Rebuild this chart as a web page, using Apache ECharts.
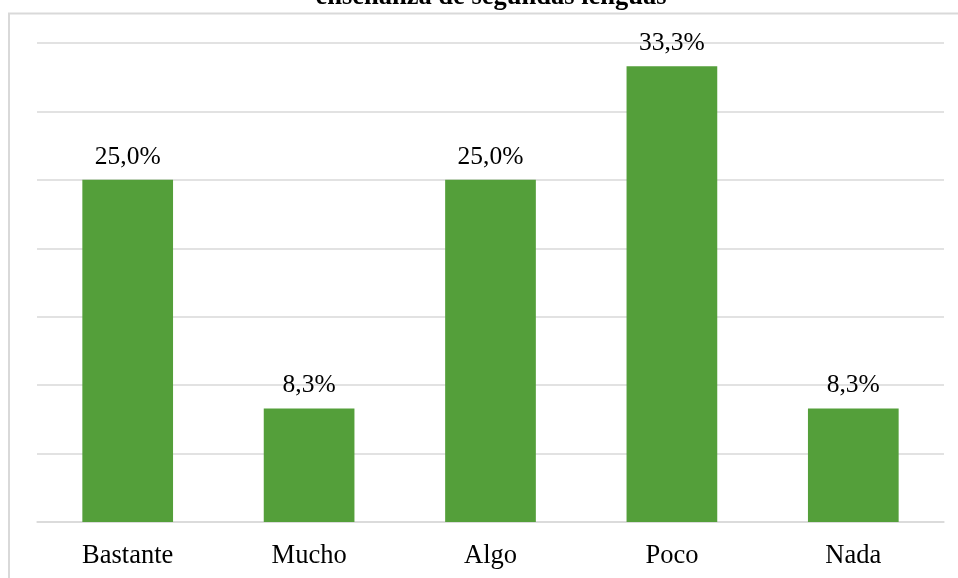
<!DOCTYPE html>
<html>
<head>
<meta charset="utf-8">
<script src="https://cdn.jsdelivr.net/npm/echarts@6/dist/echarts.min.js"></script>
<style>
  html, body { margin: 0; padding: 0; background: #ffffff; }
  #chart { width: 958px; height: 578px; }
</style>
</head>
<body>
<div id="chart"></div>
<script>
// Chart data
var titleText = 'enseñanza de segundas lenguas';
var categories = ['Bastante', 'Mucho', 'Algo', 'Poco', 'Nada'];
var percentages = [25.0, 8.3, 25.0, 33.3, 8.3];
var yMin = 0, yMax = 35, yStep = 5;

var serif = '"Liberation Serif", "Times New Roman", serif';
var chart = echarts.init(document.getElementById('chart'), null, { renderer: 'canvas' });

chart.setOption({
  backgroundColor: '#ffffff',
  animation: false,
  grid: { left: 37, right: 14, top: 43, bottom: 56, containLabel: false },
  graphic: [
    {
      type: 'rect',
      shape: { x: 9, y: 13.5, width: 1200, height: 1200 },
      style: { fill: null, stroke: '#d9d9d9', lineWidth: 2 },
      silent: true
    },
    {
      type: 'text',
      x: 491, y: -3,
      style: {
        text: titleText,
        font: 'bold 26.5px ' + serif,
        fill: '#000000',
        align: 'center',
        verticalAlign: 'middle'
      },
      silent: true
    }
  ],
  xAxis: {
    type: 'category',
    data: categories,
    axisLine: { lineStyle: { color: '#d9d9d9', width: 1.5 } },
    axisTick: { show: false },
    axisLabel: { color: '#000000', fontFamily: serif, fontSize: 26.5, margin: 21 }
  },
  yAxis: {
    type: 'value',
    min: yMin, max: yMax, interval: yStep,
    axisLine: { show: false },
    axisTick: { show: false },
    axisLabel: { show: false },
    splitLine: { lineStyle: { color: '#d9d9d9', width: 1.5 } }
  },
  series: [{
    type: 'bar',
    data: percentages,
    barWidth: '50%',
    itemStyle: { color: '#549f3a' },
    label: {
      show: true,
      position: 'top',
      distance: 10,
      color: '#000000',
      fontFamily: serif,
      fontSize: 25.5,
      formatter: function (p) { return p.value.toFixed(1).replace('.', ',') + '%'; }
    }
  }]
});
</script>
</body>
</html>
